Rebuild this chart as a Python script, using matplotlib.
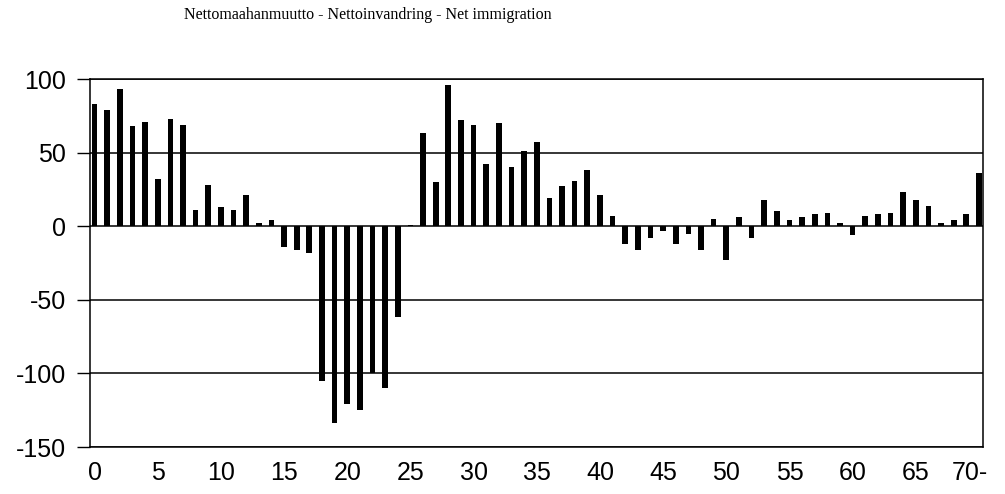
import matplotlib
matplotlib.use("Agg")
import matplotlib.pyplot as plt
import matplotlib.transforms as mtransforms
import numpy as np

title = "Nettomaahanmuutto - Nettoinvandring - Net immigration"
ages = list(range(71))
net_immigration = [83, 79, 93, 68, 71, 32, 73, 69, 11, 28,
                   13, 11, 21, 2, 4, -14, -16, -18, -105, -134,
                   -121, -125, -100, -110, -62, 1, 63, 30, 96, 72,
                   69, 42, 70, 40, 51, 57, 19, 27, 31, 38,
                   21, 7, -12, -16, -8, -3, -12, -5, -16, 5,
                   -23, 6, -8, 18, 10, 4, 6, 8, 9, 2,
                   -6, 7, 8, 9, 23, 18, 14, 2, 4, 8, 36]
x_tick_pos = [0, 5, 10, 15, 20, 25, 30, 35, 40, 45, 50, 55, 60, 65, 70]
x_tick_labels = ["0", "5", "10", "15", "20", "25", "30", "35", "40", "45",
                 "50", "55", "60", "65", "70-"]
y_ticks = [100, 50, 0, -50, -100, -150]

fig = plt.figure(figsize=(10.05, 4.94), dpi=100)
ax = fig.add_axes([90/1005, 1-447/494, (983-90)/1005, (447-79)/494])

ax.bar(ages, net_immigration, width=0.45, color="black", zorder=3)
ax.set_xlim(-0.36, 70.32)
ax.set_ylim(-150, 100)

for yv in y_ticks:
    ax.axhline(yv, color="black", lw=1.1, zorder=2)

for s in ax.spines.values():
    s.set_color("black")
    s.set_linewidth(1.1)

ax.set_yticks(y_ticks)
ax.set_yticklabels([str(v) for v in y_ticks], fontfamily="Liberation Sans", fontsize=18)
ax.set_xticks(x_tick_pos)
ax.set_xticklabels(x_tick_labels, fontfamily="Liberation Sans", fontsize=18)
ax.tick_params(axis="y", length=9.4, width=1.0, pad=8, direction="out")
ax.tick_params(axis="x", length=0, pad=10)

# nudge the last label ("70-") slightly left, as in the reference
last = ax.get_xticklabels()[-1]
last.set_transform(last.get_transform() +
                   mtransforms.ScaledTranslation(-9/100, 0, fig.dpi_scale_trans))

fig.text(368/1005, 1-15/494, title, ha="center", va="center",
         fontfamily="Liberation Serif", fontsize=11.5)

fig.savefig("out.png", dpi=100, facecolor="white")
